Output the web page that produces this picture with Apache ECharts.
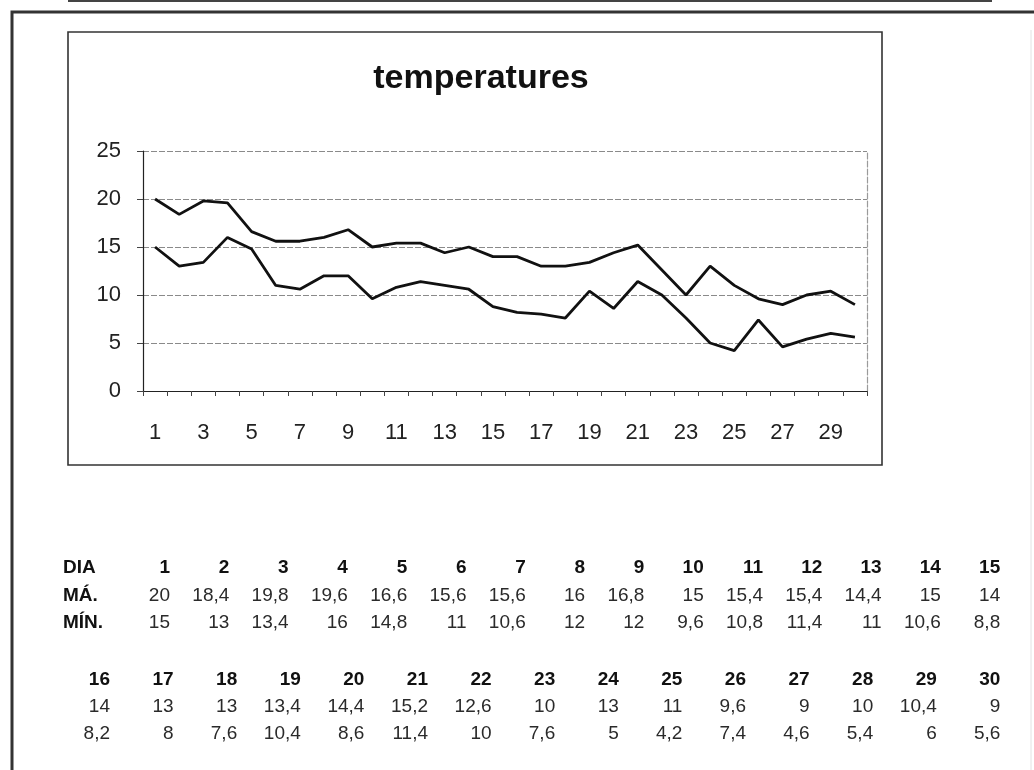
<!DOCTYPE html>
<html>
<head>
<meta charset="utf-8">
<script src="https://cdn.jsdelivr.net/npm/echarts@6/dist/echarts.min.js"></script>
<style>
html,body{margin:0;padding:0;background:#fff;}
#chart{width:1034px;height:770px;}
</style>
</head>
<body>
<div id="chart"></div>
<script>
// ---- data ----
const days = [1,2,3,4,5,6,7,8,9,10,11,12,13,14,15,16,17,18,19,20,21,22,23,24,25,26,27,28,29,30];
const maxTemps = [20,18.4,19.8,19.6,16.6,15.6,15.6,16,16.8,15,15.4,15.4,14.4,15,14,14,13,13,13.4,14.4,15.2,12.6,10,13,11,9.6,9,10,10.4,9];
const minTemps = [15,13,13.4,16,14.8,11,10.6,12,12,9.6,10.8,11.4,11,10.6,8.8,8.2,8,7.6,10.4,8.6,11.4,10,7.6,5,4.2,7.4,4.6,5.4,6,5.6];
const rowLabels = ['DIA', 'MÁ.', 'MÍN.'];
const titleText = 'temperatures';

const FONT = '"Liberation Sans", Arial, Helvetica, sans-serif';
const chart = echarts.init(document.getElementById('chart'), null, {renderer: 'canvas'});

function fmt(v){ return String(v).replace('.', ','); }

// ---- table built from the arrays ----
const tableEls = [];
function addText(x, y, text, bold, align){
  tableEls.push({
    type: 'text', x: x, y: y, silent: true,
    style: {
      text: text, fill: bold ? '#111' : '#2a2a2a',
      font: (bold ? 'bold ' : '') + '19px ' + FONT,
      textAlign: align, textVerticalAlign: 'middle'
    }
  });
}
const block1Y = [568, 596, 623];
const block2Y = [680, 707, 734];
rowLabels.forEach((l, i) => addText(63, block1Y[i], l, true, 'left'));
days.forEach((d, i) => {
  let x, ys;
  if (i < 15) { x = 170 + i * 59.3; ys = block1Y; }
  else { x = 110 + (i - 15) * 63.6; ys = block2Y; }
  addText(x, ys[0], String(d), true, 'right');
  addText(x, ys[1], fmt(maxTemps[i]), false, 'right');
  addText(x, ys[2], fmt(minTemps[i]), false, 'right');
});

const option = {
  backgroundColor: '#fff',
  animation: false,
  grid: {left: 143, right: 167, top: 151, bottom: 379, containLabel: false},
  xAxis: {
    type: 'category',
    data: days,
    boundaryGap: true,
    axisLine: {show: true, lineStyle: {color: '#222', width: 1.2}},
    axisTick: {show: true, inside: false, length: 5, interval: 0, lineStyle: {color: '#444'}},
    axisLabel: {interval: 1, margin: 31, color: '#222', fontSize: 22, fontFamily: FONT},
    splitLine: {show: false}
  },
  yAxis: [{
    type: 'value', min: 0, max: 25, interval: 5,
    axisLine: {show: true, lineStyle: {color: '#222', width: 1.2}},
    axisTick: {show: true, inside: false, length: 6, lineStyle: {color: '#444'}},
    axisLabel: {margin: 22, color: '#222', fontSize: 22, fontFamily: FONT},
    splitLine: {show: true, lineStyle: {color: '#8a8a8a', width: 1.2, type: [6, 2]}}
  }, {
    type: 'value', min: 0, max: 25, interval: 5, position: 'right',
    axisLine: {show: true, lineStyle: {color: '#9a9a9a', width: 1.2, type: [6, 2]}},
    axisTick: {show: false}, axisLabel: {show: false}, splitLine: {show: false}
  }],
  series: [
    {name: 'MÁ.', type: 'line', data: maxTemps, showSymbol: false, symbol: 'none',
     lineStyle: {color: '#111', width: 2.8}, z: 5},
    {name: 'MÍN.', type: 'line', data: minTemps, showSymbol: false, symbol: 'none',
     lineStyle: {color: '#111', width: 2.8}, z: 5}
  ],
  graphic: [
    {type: 'line', silent: true, shape: {x1: 68, y1: 1, x2: 992, y2: 1}, style: {stroke: '#444', lineWidth: 2}},
    {type: 'polyline', silent: true, shape: {points: [[12, 770], [12, 12], [1034, 12]]}, style: {stroke: '#333', lineWidth: 3, fill: null}},
    {type: 'line', silent: true, shape: {x1: 1031, y1: 30, x2: 1031, y2: 770}, style: {stroke: '#e2e2e2', lineWidth: 1}},
    {type: 'rect', silent: true, shape: {x: 68, y: 32, width: 814, height: 433}, style: {stroke: '#333', lineWidth: 1.6, fill: null}},
    {type: 'text', silent: true, x: 481, y: 79, style: {text: titleText, font: 'bold 34px ' + FONT, fill: '#111', textAlign: 'center', textVerticalAlign: 'middle'}}
  ].concat(tableEls)
};
chart.setOption(option);
</script>
</body>
</html>
